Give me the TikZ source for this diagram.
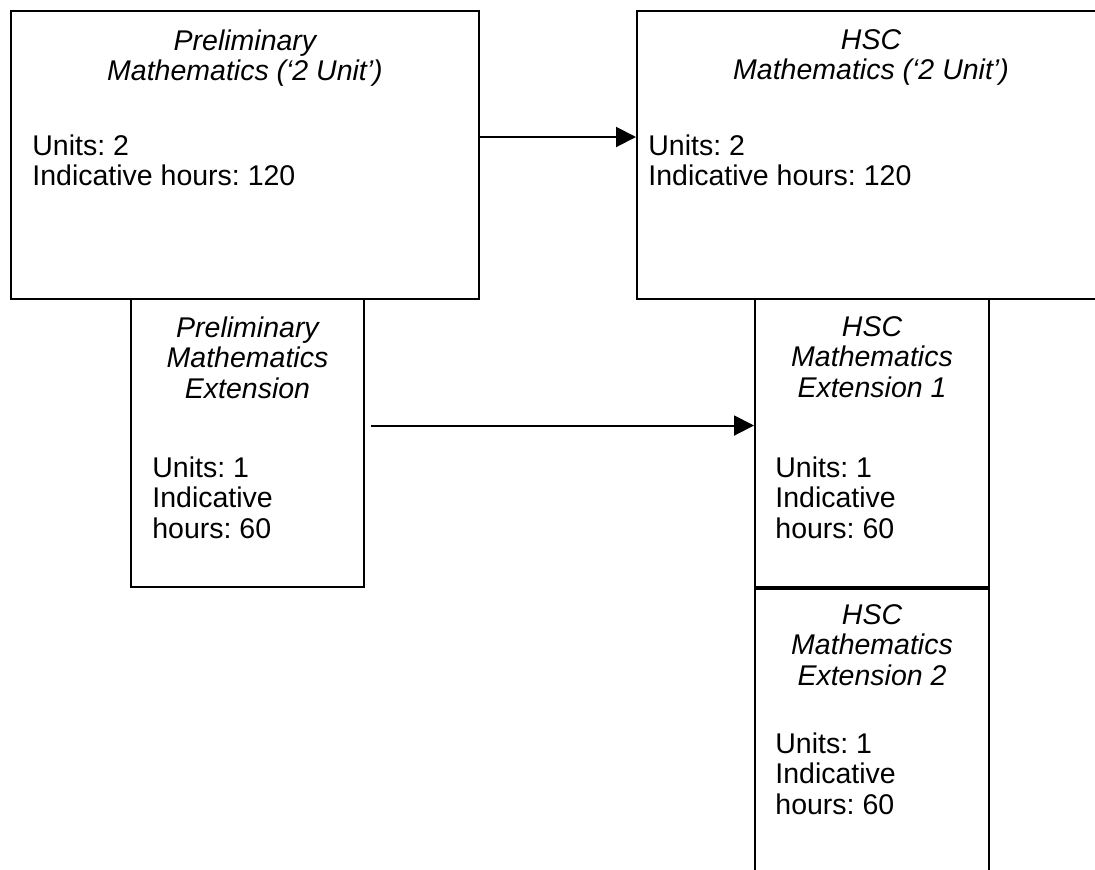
\documentclass[tikz,border=0pt]{standalone}
\usepackage{fontspec}
\setmainfont{Liberation Sans}
\usetikzlibrary{arrows.meta,positioning}
\frenchspacing

\tikzstyle{box} = [rectangle, draw, line width=1pt, inner sep=0pt, anchor=north west]
\tikzstyle{title} = [font=\fontsize{14.25}{15.25}\selectfont\itshape, align=center, anchor=north, inner sep=0pt]
\tikzstyle{info} = [align=left, anchor=north west, inner sep=0pt]
\tikzstyle{arrow} = [draw, line width=1pt, -{Triangle[length=10pt,width=10pt]}]

\begin{document}
\begin{tikzpicture}[x=0.5pt, y=-0.5pt, font=\fontsize{14.25}{15.25}\selectfont]
    \useasboundingbox (0,0) rectangle (1095,869);
    \clip (0,0) rectangle (1095,869);

    % boxes
    \node[box, minimum width=234pt, minimum height=144pt] (prelim) at (10,10) {};
    \node[box, minimum width=234pt, minimum height=144pt] (hsc) at (636,10) {};
    \node[box, minimum width=116.5pt, minimum height=144pt] (prelimext) at (130,298) {};
    \node[box, minimum width=117pt, minimum height=144pt] (extone) at (754,298) {};
    \node[box, minimum width=117pt, minimum height=150pt, below=0pt of extone] (exttwo) {};

    % titles
    \node[title, below=9.5pt of prelim.north] (prelimT) {Preliminary\\Mathematics (‘2 Unit’)};
    \node[title, below=9.5pt of hsc.north] (hscT) {HSC\\Mathematics (‘2 Unit’)};
    \node[title, below=9pt of prelimext.north] (prelimextT) {Preliminary\\Mathematics\\Extension};
    \node[title, below=9pt of extone.north] (extoneT) {HSC\\Mathematics\\Extension 1};
    \node[title, below=8pt of exttwo.north] (exttwoT) {HSC\\Mathematics\\Extension 2};

    % units and hours
    \node[info, below right=62pt and 11pt of prelim.north west] (prelimI) {Units: 2\\Indicative hours: 120};
    \node[info, below right=62pt and 6pt of hsc.north west] (hscI) {Units: 2\\Indicative hours: 120};
    \node[info, below right=79pt and 11pt of prelimext.north west] (prelimextI) {Units: 1\\Indicative\\hours: 60};
    \node[info, below right=79pt and 10.5pt of extone.north west] (extoneI) {Units: 1\\Indicative\\hours: 60};
    \node[info, below right=72pt and 10.5pt of exttwo.north west] (exttwoI) {Units: 1\\Indicative\\hours: 60};

    % arrows
    \draw [arrow] ([yshift=9pt]prelim.east) to ([yshift=9pt]hsc.west);
    \draw [arrow] ([xshift=3pt, yshift=8.75pt]prelimext.east) to ([yshift=8.75pt]extone.west);
\end{tikzpicture}
\end{document}
